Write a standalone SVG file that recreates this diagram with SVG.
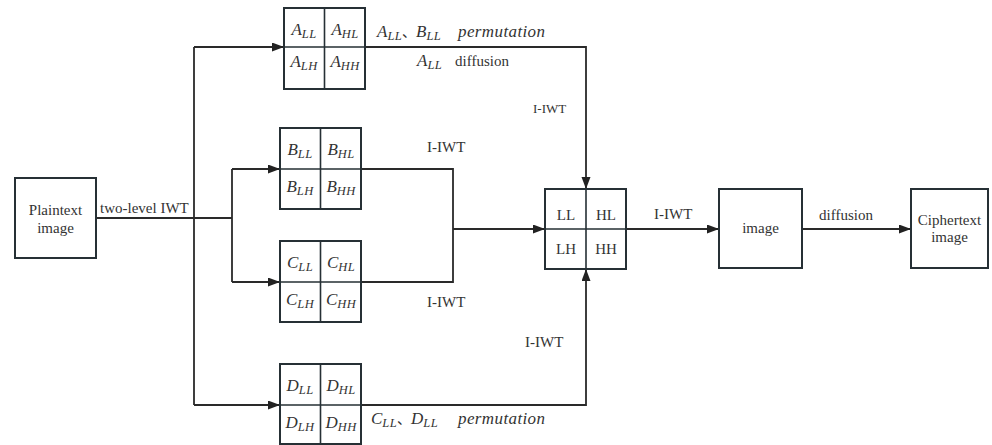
<svg xmlns="http://www.w3.org/2000/svg" width="992" height="445" viewBox="0 0 992 445">
<style>
.box{fill:#fff;stroke:#263035;stroke-width:2}
.div{fill:none;stroke:#263035;stroke-width:1.6}
.ln{fill:none;stroke:#2a2a2a;stroke-width:1.8}
.t{font-family:'Liberation Serif','DejaVu Serif',serif;font-size:15px;fill:#333}
.ts{font-family:'Liberation Serif','DejaVu Serif',serif;font-size:13px;fill:#333}
.m{font-family:'Liberation Serif','DejaVu Serif',serif;font-style:italic;font-size:17px;fill:#333}
.s{font-size:12.5px;letter-spacing:0.4px}
.cjk{font-family:'Noto Sans CJK SC',sans-serif;font-style:normal;font-size:14px}
</style>
<defs>
<marker id="ah" markerUnits="userSpaceOnUse" markerWidth="13" markerHeight="10" refX="12" refY="4.5" orient="auto">
<path d="M0,0 L12,4.5 L0,9 z" fill="#222"/>
</marker>
</defs>

<g id="connectors">
<path class="ln" d="M96,218 H232"/>
<path class="ln" d="M194,47 V405"/>
<path class="ln" d="M232,169 V282"/>
<path class="ln" d="M194,47 H284" marker-end="url(#ah)"/>
<path class="ln" d="M194,405 H280" marker-end="url(#ah)"/>
<path class="ln" d="M232,169 H280" marker-end="url(#ah)"/>
<path class="ln" d="M232,282 H280" marker-end="url(#ah)"/>
<path class="ln" d="M361,169 H453 V282 H361"/>
<path class="ln" d="M453,229 H545" marker-end="url(#ah)"/>
<path class="ln" d="M365,47 H586 V189" marker-end="url(#ah)"/>
<path class="ln" d="M361,405 H586 V269" marker-end="url(#ah)"/>
<path class="ln" d="M626,229 H719" marker-end="url(#ah)"/>
<path class="ln" d="M802,229 H911" marker-end="url(#ah)"/>
</g>

<g id="labels">
<text class="t" x="100" y="213">two-level IWT</text>
<text class="ts" x="533" y="113">I-IWT</text>
<text class="t" x="427" y="152">I-IWT</text>
<text class="t" x="427" y="307">I-IWT</text>
<text class="t" x="525" y="347">I-IWT</text>
<text class="t" x="654" y="219">I-IWT</text>
<text class="t" x="819" y="220">diffusion</text>
<text class="m" x="377" y="37">A<tspan class="s" dy="3">LL</tspan><tspan class="cjk" dy="-3">、</tspan>B<tspan class="s" dy="3">LL</tspan></text>
<text class="m" x="458" y="37" textLength="87" lengthAdjust="spacing">permutation</text>
<text class="m" x="417" y="66">A<tspan class="s" dy="3">LL</tspan></text>
<text class="t" x="455" y="66">diffusion</text>
<text class="m" x="371" y="424">C<tspan class="s" dy="3">LL</tspan><tspan class="cjk" dy="-3">、</tspan>D<tspan class="s" dy="3">LL</tspan></text>
<text class="m" x="458" y="424" textLength="87" lengthAdjust="spacing">permutation</text>
</g>

<g id="plaintext">
<rect class="box" x="15" y="178" width="81" height="80"/>
<text class="t" x="55.5" y="215" text-anchor="middle">Plaintext</text>
<text class="t" x="55.5" y="233" text-anchor="middle">image</text>
</g>

<g id="blockA">
<rect class="box" x="284" y="8" width="81" height="81"/>
<path class="div" d="M324.5,8 V89 M284,47 H365"/>
<g class="m" text-anchor="middle">
<text x="304" y="35">A<tspan class="s" dy="3">LL</tspan></text>
<text x="345" y="35">A<tspan class="s" dy="3">HL</tspan></text>
<text x="304" y="67">A<tspan class="s" dy="3">LH</tspan></text>
<text x="345" y="67">A<tspan class="s" dy="3">HH</tspan></text>
</g>
</g>

<g id="blockB">
<rect class="box" x="280" y="128" width="81" height="81"/>
<path class="div" d="M320.5,128 V209 M280,169 H361"/>
<g class="m" text-anchor="middle">
<text x="300" y="155">B<tspan class="s" dy="3">LL</tspan></text>
<text x="341" y="155">B<tspan class="s" dy="3">HL</tspan></text>
<text x="300" y="192">B<tspan class="s" dy="3">LH</tspan></text>
<text x="341" y="192">B<tspan class="s" dy="3">HH</tspan></text>
</g>
</g>

<g id="blockC">
<rect class="box" x="280" y="241" width="81" height="81"/>
<path class="div" d="M320.5,241 V322 M280,282 H361"/>
<g class="m" text-anchor="middle">
<text x="300" y="268">C<tspan class="s" dy="3">LL</tspan></text>
<text x="341" y="268">C<tspan class="s" dy="3">HL</tspan></text>
<text x="300" y="305">C<tspan class="s" dy="3">LH</tspan></text>
<text x="341" y="305">C<tspan class="s" dy="3">HH</tspan></text>
</g>
</g>

<g id="blockD">
<rect class="box" x="280" y="364" width="81" height="80"/>
<path class="div" d="M320.5,364 V444 M280,405 H361"/>
<g class="m" text-anchor="middle">
<text x="300" y="391">D<tspan class="s" dy="3">LL</tspan></text>
<text x="341" y="391">D<tspan class="s" dy="3">HL</tspan></text>
<text x="300" y="428">D<tspan class="s" dy="3">LH</tspan></text>
<text x="341" y="428">D<tspan class="s" dy="3">HH</tspan></text>
</g>
</g>

<g id="merged">
<rect class="box" x="545" y="189" width="81" height="80"/>
<path class="div" d="M586,189 V269 M545,229 H626"/>
<g class="t" text-anchor="middle">
<text x="566" y="220">LL</text>
<text x="606" y="220">HL</text>
<text x="566" y="254">LH</text>
<text x="606" y="254">HH</text>
</g>
</g>

<g id="image">
<rect class="box" x="719" y="189" width="83" height="79"/>
<text class="t" x="760.5" y="233" text-anchor="middle">image</text>
</g>

<g id="ciphertext">
<rect class="box" x="911" y="189" width="77" height="79"/>
<text class="t" x="949.5" y="225" text-anchor="middle">Ciphertext</text>
<text class="t" x="949.5" y="242" text-anchor="middle">image</text>
</g>
</svg>
